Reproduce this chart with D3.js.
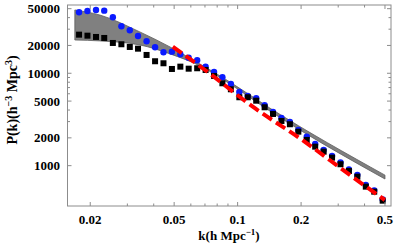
<!DOCTYPE html>
<html>
<head>
<meta charset="utf-8">
<script src="https://cdn.jsdelivr.net/npm/d3@7/dist/d3.min.js"></script>
<style>
  body { margin: 0; background: #fff; }
  text { font-family: "Liberation Serif", "DejaVu Serif", serif; font-weight: bold; }
</style>
</head>
<body>
<script>
// data
var kValues = [0.0177, 0.0194, 0.0213, 0.0233, 0.0256, 0.0281, 0.0308, 0.0337, 0.0370,
  0.0406, 0.0445, 0.0488, 0.0535, 0.0586, 0.0643, 0.0705, 0.0773, 0.0847, 0.0929,
  0.1019, 0.1117, 0.1225, 0.1343, 0.1472, 0.1614, 0.1770, 0.1941, 0.2128, 0.2333,
  0.2559, 0.2805, 0.3076, 0.3373, 0.3698, 0.4055, 0.4446, 0.4875];

var blueP = [45730, 47240, 48430, 47590, 40380, 32270, 29200, 25330, 22200,
  19120, 16880, 17130, 16050, 14750, 13830, 11790, 10330, 9050, 7660,
  6275, 5680, 5363, 4505, 3813, 3283, 2972, 2434, 2060,
  1718, 1479, 1274, 1083, 910, 793, 618, 539, 431];

var blackP = [26170, 25520, 24710, 24100, 21280, 20600, 19260, 18460, 15780,
  13490, 12830, 11130, 11790, 11210, 11330, 10860, 9350, 7795, 6710,
  5500, 5500, 5050, 4285, 3627, 3046, 2807, 2333, 1898,
  1606, 1418, 1221, 1036, 876, 760, 593, 523, 418];

var bandK = [0.0169, 0.0222, 0.0344, 0.0478, 0.0663, 0.0919, 0.142, 0.5];
var bandUpper = [48400, 42700, 28000, 19270, 12600, 8050, 4210, 790];
var bandLower = [22900, 22400, 20250, 16200, 12000, 7660, 3910, 717];

var redK = [0.0493, 0.070, 0.118, 0.2047, 0.3406, 0.499];
var redP = [19410, 10850, 4350, 1865, 793, 425];

var xMajor = [0.02, 0.05, 0.1, 0.2, 0.5];
var xMinor = [0.03, 0.04, 0.06, 0.07, 0.08, 0.09, 0.3, 0.4];
var yMajor = [1000, 2000, 5000, 10000, 20000, 50000];
var yMinor = [3000, 4000, 6000, 7000, 8000, 9000, 30000, 40000];

// ----------------------------------------------------------------------------
// layout
var width = 400, height = 247;
var mLeft = 67.5, mRight = 391, mTop = 5, mBottom = 206;

var svg = d3.select( 'body' ).append( 'svg' )
  .attr( 'width', width )
  .attr( 'height', height );

var x = d3.scaleLog().domain( [0.0156, 0.534] ).range( [mLeft, mRight] );
var y = d3.scaleLog().domain( [366, 54800] ).range( [mBottom, mTop] );

svg.append( 'clipPath' ).attr( 'id', 'plot' )
  .append( 'rect' )
  .attr( 'x', mLeft ).attr( 'y', mTop )
  .attr( 'width', mRight - mLeft ).attr( 'height', mBottom - mTop );

var plot = svg.append( 'g' ).attr( 'clip-path', 'url(#plot)' );

// ----------------------------------------------------------------------------
// grey band
var band = bandK.map( function ( k, i ) {
  return { k: k, hi: bandUpper[i], lo: bandLower[i] };
});

plot.append( 'path' )
  .datum( band )
  .attr( 'd', d3.area()
    .curve( d3.curveMonotoneX )
    .x( function ( d ) { return x( d.k ); })
    .y0( function ( d ) { return y( d.lo ); })
    .y1( function ( d ) { return y( d.hi ); }) )
  .style( 'fill', '#808080' )
  .style( 'stroke', '#5e5e5e' )
  .style( 'stroke-width', 0.8 );

// ----------------------------------------------------------------------------
// points
var points = kValues.map( function ( k, i ) {
  return { k: k, blue: blueP[i], black: blackP[i] };
});

plot.selectAll( 'circle' )
  .data( points )
  .enter()
  .append( 'circle' )
  .attr( 'cx', function ( d ) { return x( d.k ); })
  .attr( 'cy', function ( d ) { return y( d.blue ); })
  .attr( 'r', 3.2 )
  .style( 'fill', '#0a1aff' );

plot.selectAll( 'rect.sq' )
  .data( points )
  .enter()
  .append( 'rect' )
  .attr( 'class', 'sq' )
  .attr( 'x', function ( d ) { return x( d.k ) - 3; })
  .attr( 'y', function ( d ) { return y( d.black ) - 3; })
  .attr( 'width', 6 )
  .attr( 'height', 6 )
  .style( 'fill', '#000' );

// red dashed line
var red = redK.map( function ( k, i ) {
  return { k: k, p: redP[i] };
});

plot.append( 'path' )
  .datum( red )
  .attr( 'd', d3.line()
    .curve( d3.curveMonotoneX )
    .x( function ( d ) { return x( d.k ); })
    .y( function ( d ) { return y( d.p ); }) )
  .style( 'fill', 'none' )
  .style( 'stroke', '#ff0000' )
  .style( 'stroke-width', 4 )
  .style( 'stroke-dasharray', '11,5' );

// ----------------------------------------------------------------------------
// frame and ticks
var tickColor = '#8c8c8c';

svg.append( 'rect' )
  .attr( 'x', mLeft ).attr( 'y', mTop )
  .attr( 'width', mRight - mLeft ).attr( 'height', mBottom - mTop )
  .style( 'fill', 'none' )
  .style( 'stroke', tickColor )
  .style( 'stroke-width', 1 );

function xTicks( values, len ) {
  svg.selectAll( null ).data( values ).enter().append( 'line' )
    .attr( 'x1', function ( d ) { return x( d ); })
    .attr( 'x2', function ( d ) { return x( d ); })
    .attr( 'y1', mBottom ).attr( 'y2', mBottom - len )
    .style( 'stroke', tickColor );
  svg.selectAll( null ).data( values ).enter().append( 'line' )
    .attr( 'x1', function ( d ) { return x( d ); })
    .attr( 'x2', function ( d ) { return x( d ); })
    .attr( 'y1', mTop ).attr( 'y2', mTop + len )
    .style( 'stroke', tickColor );
}

function yTicks( values, len ) {
  svg.selectAll( null ).data( values ).enter().append( 'line' )
    .attr( 'y1', function ( d ) { return y( d ); })
    .attr( 'y2', function ( d ) { return y( d ); })
    .attr( 'x1', mLeft ).attr( 'x2', mLeft + len )
    .style( 'stroke', tickColor );
  svg.selectAll( null ).data( values ).enter().append( 'line' )
    .attr( 'y1', function ( d ) { return y( d ); })
    .attr( 'y2', function ( d ) { return y( d ); })
    .attr( 'x1', mRight ).attr( 'x2', mRight - len )
    .style( 'stroke', tickColor );
}

xTicks( xMajor, 4 );
xTicks( xMinor, 2.5 );
yTicks( yMajor, 4 );
yTicks( yMinor, 2.5 );

// tick labels
svg.selectAll( 'text.xl' )
  .data( xMajor )
  .enter()
  .append( 'text' )
  .attr( 'class', 'xl' )
  .attr( 'x', function ( d ) { return x( d ); })
  .attr( 'y', 224 )
  .attr( 'text-anchor', 'middle' )
  .style( 'font-size', '13px' )
  .text( function ( d ) { return String( d ); });

svg.selectAll( 'text.yl' )
  .data( yMajor )
  .enter()
  .append( 'text' )
  .attr( 'class', 'yl' )
  .attr( 'x', 60 )
  .attr( 'y', function ( d ) { return y( d ) + 4.5; })
  .attr( 'text-anchor', 'end' )
  .style( 'font-size', '13px' )
  .text( function ( d ) { return String( d ); });

// axis titles
var xt = svg.append( 'text' )
  .attr( 'x', 229 )
  .attr( 'y', 240 )
  .attr( 'text-anchor', 'middle' )
  .style( 'font-size', '13px' );
xt.append( 'tspan' ).text( 'k(h Mpc' );
xt.append( 'tspan' ).attr( 'dy', -5 ).style( 'font-size', '9px' ).text( '\u22121' );
xt.append( 'tspan' ).attr( 'dy', 5 ).text( ')' );

var yt = svg.append( 'text' )
  .attr( 'transform', 'translate(17,100) rotate(-90)' )
  .attr( 'text-anchor', 'middle' )
  .style( 'font-size', '14px' );
yt.append( 'tspan' ).text( 'P(k)(h' );
yt.append( 'tspan' ).attr( 'dy', -5 ).style( 'font-size', '10px' ).text( '\u22123' );
yt.append( 'tspan' ).attr( 'dy', 5 ).text( ' Mpc' );
yt.append( 'tspan' ).attr( 'dy', -5 ).style( 'font-size', '10px' ).text( '3' );
yt.append( 'tspan' ).attr( 'dy', 5 ).text( ')' );
</script>
</body>
</html>
